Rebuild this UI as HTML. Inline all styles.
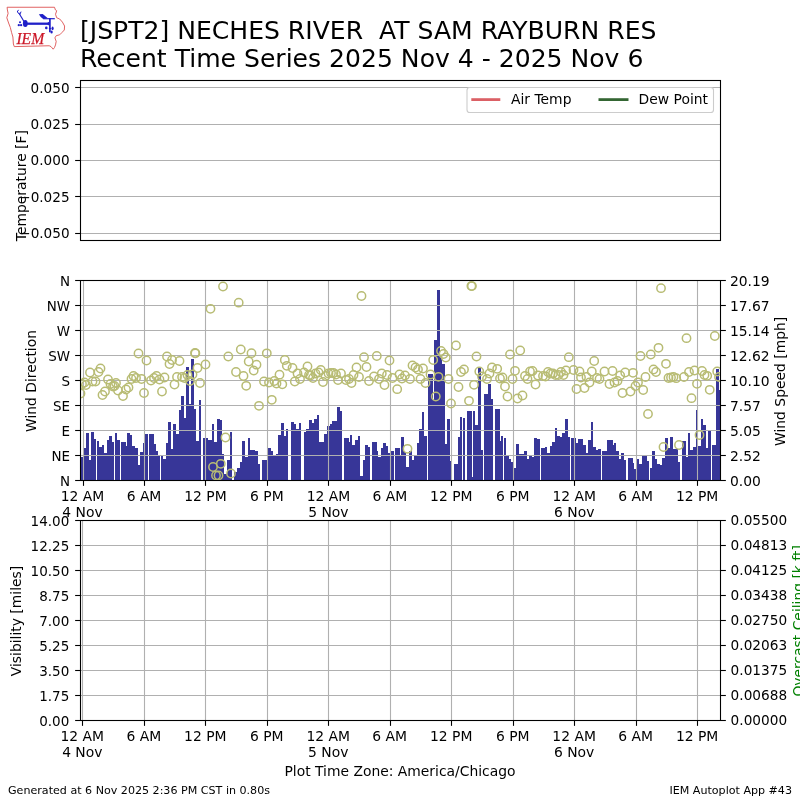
<!DOCTYPE html>
<html lang="en"><head><meta charset="utf-8"><title>IEM Autoplot #43 - JSPT2</title>
<style>html,body{margin:0;padding:0;background:#fff}svg{display:block}</style></head>
<body>
<svg width="800" height="800" viewBox="0 0 800 800" font-family='"DejaVu Sans", "Liberation Sans", sans-serif' font-size="13.89" fill="#000">
<rect width="800" height="800" fill="#fff"/>
<g id="logo">
<polygon points="7.1,7.25 54.5,7.25 55.4,9.9 56.7,10.75 55.5,14.25 56.7,17.75 59.7,19 62.4,22.1 64.6,26 64.3,30 61.9,32.6 59.7,34.8 56.2,35.7 54.9,37.9 56.2,41.4 55.5,44.9 54.5,47.5 53.2,49.2 51,46.6 49.2,45.75 14.25,46.6 13.4,44 12.9,37 11.6,32.6 10.3,27.4 8.6,23 6.8,17.75 8.1,13.4 7.4,9.9" fill="none" stroke="#dc5050" stroke-width="0.9" stroke-linejoin="round"/>
<ellipse cx="25.3" cy="23.6" rx="2.4" ry="3.5" fill="#2020c8"/>
<line x1="25" y1="23.7" x2="49.6" y2="23.7" stroke="#2020c8" stroke-width="2.3"/>
<polygon points="47.5,22.7 49.2,21.8 49.2,25.6 47.5,24.7" fill="#2020c8"/>
<line x1="49.9" y1="17.9" x2="49.9" y2="32.2" stroke="#2020c8" stroke-width="1.7"/>
<line x1="43.2" y1="18.7" x2="54.8" y2="18.7" stroke="#2020c8" stroke-width="1.2"/>
<polygon points="38.9,14.3 42.7,14.0 47.6,18.1 43.2,19.1 40.7,16.9" fill="#2020c8"/>
<line x1="25.3" y1="23.6" x2="18.7" y2="12.8" stroke="#2020c8" stroke-width="1.1"/>
<path d="M18.7,13.3 L17.2,12.0 L18.3,10.2 M19.8,14.6 L20.9,12.0" stroke="#2020c8" stroke-width="1" fill="none" stroke-linecap="round"/>
<circle cx="20" cy="22.2" r="1.0" fill="#2020c8"/><circle cx="18.8" cy="25.2" r="1.15" fill="#2020c8"/><circle cx="21.1" cy="25.2" r="1.15" fill="#2020c8"/>
<circle cx="46.3" cy="27.9" r="1.3" fill="#2020c8"/>
<ellipse cx="52.6" cy="28.3" rx="1.05" ry="1.9" fill="#2020c8"/><ellipse cx="51.6" cy="31.9" rx="1.15" ry="1.5" fill="#2020c8"/>
<line x1="48.9" y1="28.6" x2="51.2" y2="28.6" stroke="#2020c8" stroke-width="1"/>
<text x="16.4" y="43.8" font-family='"Liberation Serif", "DejaVu Serif", serif' font-style="italic" font-size="17.5" fill="#cc1828" stroke="#cc1828" stroke-width="0.25" textLength="27.8" lengthAdjust="spacingAndGlyphs">IEM</text>
</g>
<text x="80" y="38.7" font-size="25" xml:space="preserve" style="white-space:pre" textLength="576.4" lengthAdjust="spacingAndGlyphs">[JSPT2] NECHES RIVER  AT SAM RAYBURN RES</text>
<text x="80" y="66.9" font-size="25" textLength="563.4" lengthAdjust="spacingAndGlyphs">Recent Time Series 2025 Nov 4 - 2025 Nov 6</text>
<line x1="80" x2="720" y1="87.5" y2="87.5" stroke="#b0b0b0" stroke-width="1.1"/>
<line x1="80" x2="720" y1="124.5" y2="124.5" stroke="#b0b0b0" stroke-width="1.1"/>
<line x1="80" x2="720" y1="160.5" y2="160.5" stroke="#b0b0b0" stroke-width="1.1"/>
<line x1="80" x2="720" y1="196.5" y2="196.5" stroke="#b0b0b0" stroke-width="1.1"/>
<line x1="80" x2="720" y1="233.5" y2="233.5" stroke="#b0b0b0" stroke-width="1.1"/>
<rect x="467" y="87.5" width="246.5" height="25" rx="2.8" fill="#fff" fill-opacity="0.8" stroke="#ccc" stroke-width="1.1"/>
<line x1="471.3" x2="500.3" y1="99.6" y2="99.6" stroke="#db6065" stroke-width="2.78"/>
<text x="511" y="104.2">Air Temp</text>
<line x1="598.5" x2="628.5" y1="99.6" y2="99.6" stroke="#346633" stroke-width="2.78"/>
<text x="638.6" y="104.2">Dew Point</text>
<rect x="80.5" y="80.5" width="640" height="160" fill="none" stroke="#000" stroke-width="1.1"/>
<line x1="75.14" x2="80" y1="87.5" y2="87.5" stroke="#000" stroke-width="1.1"/>
<text transform="translate(69.6,92.6) scale(0.98,1)" text-anchor="end">0.050</text>
<line x1="75.14" x2="80" y1="124.5" y2="124.5" stroke="#000" stroke-width="1.1"/>
<text transform="translate(69.6,128.9) scale(0.98,1)" text-anchor="end">0.025</text>
<line x1="75.14" x2="80" y1="160.5" y2="160.5" stroke="#000" stroke-width="1.1"/>
<text transform="translate(69.6,165.3) scale(0.98,1)" text-anchor="end">0.000</text>
<line x1="75.14" x2="80" y1="196.5" y2="196.5" stroke="#000" stroke-width="1.1"/>
<text transform="translate(69.6,201.7) scale(0.98,1)" text-anchor="end">−0.025</text>
<line x1="75.14" x2="80" y1="233.5" y2="233.5" stroke="#000" stroke-width="1.1"/>
<text transform="translate(69.6,238.0) scale(0.98,1)" text-anchor="end">−0.050</text>
<text transform="translate(26.2,241.2) rotate(-90)">Temperature [F]</text>
<g fill="#373698" shape-rendering="crispEdges">
<rect x="81" y="457" width="3" height="23"/>
<rect x="84" y="448" width="2" height="32"/>
<rect x="86" y="433" width="3" height="47"/>
<rect x="89" y="460" width="2" height="20"/>
<rect x="91" y="432" width="3" height="48"/>
<rect x="94" y="439" width="2" height="41"/>
<rect x="97" y="441" width="2" height="39"/>
<rect x="99" y="447" width="3" height="33"/>
<rect x="102" y="445" width="2" height="35"/>
<rect x="104" y="453" width="3" height="27"/>
<rect x="107" y="440" width="2" height="40"/>
<rect x="109" y="436" width="3" height="44"/>
<rect x="112" y="442" width="2" height="38"/>
<rect x="115" y="433" width="2" height="47"/>
<rect x="117" y="440" width="3" height="40"/>
<rect x="121" y="442" width="5" height="38"/>
<rect x="126" y="446" width="1" height="34"/>
<rect x="127" y="433" width="3" height="47"/>
<rect x="130" y="435" width="2" height="45"/>
<rect x="132" y="446" width="3" height="34"/>
<rect x="135" y="448" width="3" height="32"/>
<rect x="138" y="465" width="2" height="15"/>
<rect x="140" y="452" width="3" height="28"/>
<rect x="143" y="443" width="2" height="37"/>
<rect x="145" y="434" width="3" height="46"/>
<rect x="149" y="434" width="5" height="46"/>
<rect x="154" y="444" width="2" height="36"/>
<rect x="156" y="451" width="2" height="29"/>
<rect x="158" y="455" width="2" height="25"/>
<rect x="161" y="456" width="2" height="24"/>
<rect x="163" y="459" width="3" height="21"/>
<rect x="166" y="443" width="2" height="37"/>
<rect x="168" y="422" width="3" height="58"/>
<rect x="171" y="449" width="2" height="31"/>
<rect x="173" y="424" width="3" height="56"/>
<rect x="176" y="434" width="3" height="46"/>
<rect x="179" y="410" width="2" height="70"/>
<rect x="181" y="396" width="3" height="84"/>
<rect x="184" y="418" width="2" height="62"/>
<rect x="186" y="367" width="3" height="113"/>
<rect x="189" y="404" width="2" height="76"/>
<rect x="191" y="359" width="3" height="121"/>
<rect x="194" y="409" width="2" height="71"/>
<rect x="196" y="441" width="3" height="39"/>
<rect x="199" y="400" width="2" height="80"/>
<rect x="203" y="438" width="5" height="42"/>
<rect x="208" y="440" width="4" height="40"/>
<rect x="212" y="424" width="2" height="56"/>
<rect x="214" y="442" width="3" height="38"/>
<rect x="217" y="419" width="3" height="61"/>
<rect x="220" y="420" width="2" height="60"/>
<rect x="222" y="454" width="2" height="26"/>
<rect x="224" y="474" width="3" height="6"/>
<rect x="227" y="460" width="3" height="20"/>
<rect x="230" y="432" width="2" height="48"/>
<rect x="234" y="472" width="3" height="8"/>
<rect x="237" y="468" width="3" height="12"/>
<rect x="240" y="462" width="2" height="18"/>
<rect x="242" y="441" width="3" height="39"/>
<rect x="245" y="457" width="3" height="23"/>
<rect x="248" y="438" width="2" height="42"/>
<rect x="250" y="450" width="5" height="30"/>
<rect x="255" y="451" width="3" height="29"/>
<rect x="258" y="464" width="2" height="16"/>
<rect x="262" y="460" width="6" height="20"/>
<rect x="268" y="448" width="3" height="32"/>
<rect x="271" y="451" width="2" height="29"/>
<rect x="273" y="455" width="3" height="25"/>
<rect x="276" y="454" width="2" height="26"/>
<rect x="278" y="435" width="3" height="45"/>
<rect x="281" y="423" width="3" height="57"/>
<rect x="284" y="436" width="2" height="44"/>
<rect x="286" y="429" width="2" height="51"/>
<rect x="291" y="422" width="3" height="58"/>
<rect x="294" y="424" width="2" height="56"/>
<rect x="296" y="429" width="3" height="51"/>
<rect x="299" y="423" width="2" height="57"/>
<rect x="304" y="432" width="2" height="48"/>
<rect x="306" y="429" width="3" height="51"/>
<rect x="309" y="420" width="3" height="60"/>
<rect x="312" y="423" width="2" height="57"/>
<rect x="314" y="419" width="3" height="61"/>
<rect x="317" y="415" width="2" height="65"/>
<rect x="319" y="442" width="5" height="38"/>
<rect x="324" y="434" width="3" height="46"/>
<rect x="327" y="426" width="3" height="54"/>
<rect x="330" y="424" width="2" height="56"/>
<rect x="332" y="421" width="5" height="59"/>
<rect x="337" y="407" width="3" height="73"/>
<rect x="340" y="411" width="2" height="69"/>
<rect x="344" y="438" width="5" height="42"/>
<rect x="349" y="442" width="1" height="38"/>
<rect x="350" y="435" width="2" height="45"/>
<rect x="352" y="445" width="3" height="35"/>
<rect x="355" y="440" width="3" height="40"/>
<rect x="358" y="436" width="2" height="44"/>
<rect x="360" y="476" width="3" height="4"/>
<rect x="363" y="460" width="2" height="20"/>
<rect x="365" y="445" width="3" height="35"/>
<rect x="368" y="447" width="2" height="33"/>
<rect x="372" y="442" width="5" height="38"/>
<rect x="377" y="451" width="1" height="29"/>
<rect x="378" y="457" width="3" height="23"/>
<rect x="381" y="448" width="2" height="32"/>
<rect x="383" y="443" width="3" height="37"/>
<rect x="386" y="446" width="2" height="34"/>
<rect x="388" y="453" width="3" height="27"/>
<rect x="391" y="451" width="3" height="29"/>
<rect x="395" y="448" width="5" height="32"/>
<rect x="400" y="455" width="1" height="25"/>
<rect x="401" y="437" width="3" height="43"/>
<rect x="404" y="452" width="2" height="28"/>
<rect x="406" y="467" width="3" height="13"/>
<rect x="409" y="451" width="3" height="29"/>
<rect x="412" y="460" width="2" height="20"/>
<rect x="414" y="455" width="3" height="25"/>
<rect x="417" y="443" width="2" height="37"/>
<rect x="419" y="429" width="3" height="51"/>
<rect x="422" y="412" width="2" height="68"/>
<rect x="424" y="436" width="3" height="44"/>
<rect x="428" y="374" width="5" height="106"/>
<rect x="433" y="400" width="1" height="80"/>
<rect x="434" y="340" width="3" height="140"/>
<rect x="437" y="290" width="3" height="190"/>
<rect x="440" y="355" width="2" height="125"/>
<rect x="442" y="364" width="3" height="116"/>
<rect x="445" y="444" width="2" height="36"/>
<rect x="447" y="419" width="3" height="61"/>
<rect x="450" y="461" width="2" height="19"/>
<rect x="454" y="464" width="4" height="16"/>
<rect x="458" y="437" width="2" height="43"/>
<rect x="460" y="417" width="2" height="63"/>
<rect x="463" y="418" width="2" height="62"/>
<rect x="467" y="411" width="5" height="69"/>
<rect x="472" y="477" width="1" height="3"/>
<rect x="473" y="411" width="2" height="69"/>
<rect x="475" y="425" width="3" height="55"/>
<rect x="478" y="368" width="3" height="112"/>
<rect x="481" y="450" width="2" height="30"/>
<rect x="484" y="394" width="4" height="86"/>
<rect x="488" y="384" width="3" height="96"/>
<rect x="491" y="399" width="2" height="81"/>
<rect x="495" y="409" width="5" height="71"/>
<rect x="500" y="441" width="1" height="39"/>
<rect x="501" y="436" width="2" height="44"/>
<rect x="504" y="438" width="2" height="42"/>
<rect x="506" y="456" width="3" height="24"/>
<rect x="509" y="459" width="2" height="21"/>
<rect x="511" y="462" width="3" height="18"/>
<rect x="514" y="468" width="2" height="12"/>
<rect x="516" y="444" width="3" height="36"/>
<rect x="519" y="454" width="5" height="26"/>
<rect x="524" y="451" width="3" height="29"/>
<rect x="527" y="459" width="2" height="21"/>
<rect x="529" y="455" width="3" height="25"/>
<rect x="532" y="457" width="2" height="23"/>
<rect x="534" y="438" width="3" height="42"/>
<rect x="537" y="439" width="3" height="41"/>
<rect x="541" y="448" width="4" height="32"/>
<rect x="545" y="447" width="2" height="33"/>
<rect x="547" y="453" width="3" height="27"/>
<rect x="550" y="446" width="2" height="34"/>
<rect x="552" y="442" width="3" height="38"/>
<rect x="555" y="428" width="2" height="52"/>
<rect x="557" y="436" width="3" height="44"/>
<rect x="560" y="437" width="2" height="43"/>
<rect x="562" y="433" width="3" height="47"/>
<rect x="565" y="419" width="3" height="61"/>
<rect x="568" y="437" width="2" height="43"/>
<rect x="571" y="438" width="5" height="42"/>
<rect x="576" y="443" width="2" height="37"/>
<rect x="578" y="439" width="5" height="41"/>
<rect x="583" y="445" width="3" height="35"/>
<rect x="586" y="453" width="2" height="27"/>
<rect x="588" y="440" width="3" height="40"/>
<rect x="591" y="422" width="2" height="58"/>
<rect x="593" y="447" width="3" height="33"/>
<rect x="596" y="450" width="2" height="30"/>
<rect x="598" y="449" width="3" height="31"/>
<rect x="602" y="451" width="5" height="29"/>
<rect x="607" y="440" width="6" height="40"/>
<rect x="613" y="445" width="1" height="35"/>
<rect x="614" y="443" width="2" height="37"/>
<rect x="616" y="451" width="3" height="29"/>
<rect x="619" y="459" width="2" height="21"/>
<rect x="621" y="453" width="3" height="27"/>
<rect x="624" y="460" width="2" height="20"/>
<rect x="628" y="458" width="5" height="22"/>
<rect x="633" y="463" width="1" height="17"/>
<rect x="634" y="469" width="3" height="11"/>
<rect x="637" y="459" width="2" height="21"/>
<rect x="639" y="464" width="3" height="16"/>
<rect x="642" y="456" width="5" height="24"/>
<rect x="647" y="461" width="2" height="19"/>
<rect x="650" y="468" width="2" height="12"/>
<rect x="652" y="451" width="3" height="29"/>
<rect x="655" y="459" width="2" height="21"/>
<rect x="657" y="464" width="3" height="16"/>
<rect x="660" y="465" width="2" height="15"/>
<rect x="662" y="458" width="3" height="22"/>
<rect x="665" y="438" width="3" height="42"/>
<rect x="668" y="448" width="2" height="32"/>
<rect x="670" y="437" width="3" height="43"/>
<rect x="673" y="449" width="5" height="31"/>
<rect x="678" y="462" width="2" height="18"/>
<rect x="682" y="441" width="4" height="39"/>
<rect x="686" y="457" width="2" height="23"/>
<rect x="688" y="433" width="2" height="47"/>
<rect x="690" y="450" width="3" height="30"/>
<rect x="693" y="447" width="3" height="33"/>
<rect x="696" y="410" width="2" height="70"/>
<rect x="698" y="446" width="3" height="34"/>
<rect x="701" y="419" width="2" height="61"/>
<rect x="703" y="425" width="3" height="55"/>
<rect x="706" y="448" width="2" height="32"/>
<rect x="708" y="431" width="3" height="49"/>
<rect x="712" y="445" width="4" height="35"/>
<rect x="716" y="369" width="3" height="111"/>
<rect x="719" y="390" width="1" height="90"/>
</g>
<line x1="80" x2="720" y1="305.5" y2="305.5" stroke="#b0b0b0" stroke-width="1.1"/>
<line x1="80" x2="720" y1="330.5" y2="330.5" stroke="#b0b0b0" stroke-width="1.1"/>
<line x1="80" x2="720" y1="355.5" y2="355.5" stroke="#b0b0b0" stroke-width="1.1"/>
<line x1="80" x2="720" y1="380.5" y2="380.5" stroke="#b0b0b0" stroke-width="1.1"/>
<line x1="80" x2="720" y1="405.5" y2="405.5" stroke="#b0b0b0" stroke-width="1.1"/>
<line x1="80" x2="720" y1="430.5" y2="430.5" stroke="#b0b0b0" stroke-width="1.1"/>
<line x1="80" x2="720" y1="455.5" y2="455.5" stroke="#b0b0b0" stroke-width="1.1"/>
<line x1="83.5" x2="83.5" y1="280" y2="480" stroke="#b0b0b0" stroke-width="1.1"/>
<line x1="144.5" x2="144.5" y1="280" y2="480" stroke="#b0b0b0" stroke-width="1.1"/>
<line x1="205.5" x2="205.5" y1="280" y2="480" stroke="#b0b0b0" stroke-width="1.1"/>
<line x1="267.5" x2="267.5" y1="280" y2="480" stroke="#b0b0b0" stroke-width="1.1"/>
<line x1="328.5" x2="328.5" y1="280" y2="480" stroke="#b0b0b0" stroke-width="1.1"/>
<line x1="390.5" x2="390.5" y1="280" y2="480" stroke="#b0b0b0" stroke-width="1.1"/>
<line x1="451.5" x2="451.5" y1="280" y2="480" stroke="#b0b0b0" stroke-width="1.1"/>
<line x1="513.5" x2="513.5" y1="280" y2="480" stroke="#b0b0b0" stroke-width="1.1"/>
<line x1="574.5" x2="574.5" y1="280" y2="480" stroke="#b0b0b0" stroke-width="1.1"/>
<line x1="636.5" x2="636.5" y1="280" y2="480" stroke="#b0b0b0" stroke-width="1.1"/>
<line x1="697.5" x2="697.5" y1="280" y2="480" stroke="#b0b0b0" stroke-width="1.1"/>
<clipPath id="c2"><rect x="80.5" y="280.5" width="640" height="200"/></clipPath>
<g clip-path="url(#c2)" fill="none" stroke="#b8bc74" stroke-width="1.5">
<circle cx="80.5" cy="393.5" r="4.17"/>
<circle cx="82" cy="384" r="4.17"/>
<circle cx="84.5" cy="382.5" r="4.17"/>
<circle cx="86" cy="385" r="4.17"/>
<circle cx="90" cy="372.5" r="4.17"/>
<circle cx="92.5" cy="381.5" r="4.17"/>
<circle cx="95.5" cy="381.5" r="4.17"/>
<circle cx="98.5" cy="372" r="4.17"/>
<circle cx="100.5" cy="368.5" r="4.17"/>
<circle cx="102.5" cy="395" r="4.17"/>
<circle cx="105" cy="391.5" r="4.17"/>
<circle cx="108" cy="379.5" r="4.17"/>
<circle cx="110.5" cy="384" r="4.17"/>
<circle cx="113" cy="386.5" r="4.17"/>
<circle cx="114.5" cy="386" r="4.17"/>
<circle cx="116" cy="383" r="4.17"/>
<circle cx="118" cy="390.5" r="4.17"/>
<circle cx="123" cy="396" r="4.17"/>
<circle cx="126" cy="389.5" r="4.17"/>
<circle cx="128.5" cy="387.5" r="4.17"/>
<circle cx="131.5" cy="379" r="4.17"/>
<circle cx="133.5" cy="376" r="4.17"/>
<circle cx="136" cy="378" r="4.17"/>
<circle cx="138.5" cy="353.5" r="4.17"/>
<circle cx="141.5" cy="379" r="4.17"/>
<circle cx="144" cy="393" r="4.17"/>
<circle cx="146.5" cy="360.5" r="4.17"/>
<circle cx="151" cy="380.5" r="4.17"/>
<circle cx="154" cy="378" r="4.17"/>
<circle cx="156.5" cy="376" r="4.17"/>
<circle cx="159.5" cy="379.5" r="4.17"/>
<circle cx="162" cy="391.5" r="4.17"/>
<circle cx="164.5" cy="377.5" r="4.17"/>
<circle cx="167" cy="356.5" r="4.17"/>
<circle cx="169.5" cy="364" r="4.17"/>
<circle cx="172" cy="360" r="4.17"/>
<circle cx="174.5" cy="384.5" r="4.17"/>
<circle cx="177" cy="377" r="4.17"/>
<circle cx="179.5" cy="361" r="4.17"/>
<circle cx="182" cy="377" r="4.17"/>
<circle cx="184.5" cy="378" r="4.17"/>
<circle cx="187.5" cy="375" r="4.17"/>
<circle cx="190" cy="381" r="4.17"/>
<circle cx="192.5" cy="374.5" r="4.17"/>
<circle cx="195" cy="353" r="4.17"/>
<circle cx="195.4" cy="353.3" r="4.17"/>
<circle cx="197.5" cy="368" r="4.17"/>
<circle cx="200" cy="383" r="4.17"/>
<circle cx="205.5" cy="364.5" r="4.17"/>
<circle cx="210.5" cy="308.8" r="4.17"/>
<circle cx="213" cy="467" r="4.17"/>
<circle cx="216" cy="475.5" r="4.17"/>
<circle cx="218.5" cy="475.5" r="4.17"/>
<circle cx="220.8" cy="463.8" r="4.17"/>
<circle cx="223" cy="286.5" r="4.17"/>
<circle cx="225.5" cy="437.5" r="4.17"/>
<circle cx="228.3" cy="356.5" r="4.17"/>
<circle cx="231" cy="473.5" r="4.17"/>
<circle cx="236" cy="372" r="4.17"/>
<circle cx="238.7" cy="302.7" r="4.17"/>
<circle cx="240.8" cy="349.5" r="4.17"/>
<circle cx="243.5" cy="376" r="4.17"/>
<circle cx="246.2" cy="385.8" r="4.17"/>
<circle cx="248.7" cy="361.5" r="4.17"/>
<circle cx="251.5" cy="353.2" r="4.17"/>
<circle cx="253.7" cy="370.5" r="4.17"/>
<circle cx="256.5" cy="364.7" r="4.17"/>
<circle cx="259" cy="405.8" r="4.17"/>
<circle cx="264" cy="381.5" r="4.17"/>
<circle cx="266.8" cy="353.3" r="4.17"/>
<circle cx="269" cy="382.5" r="4.17"/>
<circle cx="271.8" cy="399.8" r="4.17"/>
<circle cx="274.3" cy="381" r="4.17"/>
<circle cx="276.5" cy="383.5" r="4.17"/>
<circle cx="279.5" cy="374.7" r="4.17"/>
<circle cx="282.3" cy="384.3" r="4.17"/>
<circle cx="284.8" cy="360" r="4.17"/>
<circle cx="286.8" cy="365.8" r="4.17"/>
<circle cx="292.5" cy="368" r="4.17"/>
<circle cx="294.8" cy="381.5" r="4.17"/>
<circle cx="297.5" cy="373.5" r="4.17"/>
<circle cx="300" cy="379" r="4.17"/>
<circle cx="304" cy="372.5" r="4.17"/>
<circle cx="307.5" cy="366.5" r="4.17"/>
<circle cx="309" cy="375" r="4.17"/>
<circle cx="310.5" cy="375.5" r="4.17"/>
<circle cx="313" cy="378" r="4.17"/>
<circle cx="315.5" cy="373.5" r="4.17"/>
<circle cx="318.5" cy="372.5" r="4.17"/>
<circle cx="320.8" cy="370" r="4.17"/>
<circle cx="323" cy="382" r="4.17"/>
<circle cx="325.5" cy="376" r="4.17"/>
<circle cx="328.5" cy="373.5" r="4.17"/>
<circle cx="331" cy="373" r="4.17"/>
<circle cx="333.5" cy="373" r="4.17"/>
<circle cx="336" cy="374.5" r="4.17"/>
<circle cx="338" cy="380" r="4.17"/>
<circle cx="341" cy="373.5" r="4.17"/>
<circle cx="346" cy="380" r="4.17"/>
<circle cx="349" cy="379" r="4.17"/>
<circle cx="351.5" cy="383" r="4.17"/>
<circle cx="353.5" cy="375" r="4.17"/>
<circle cx="356.5" cy="367.5" r="4.17"/>
<circle cx="359" cy="377" r="4.17"/>
<circle cx="361.5" cy="296" r="4.17"/>
<circle cx="364" cy="357.2" r="4.17"/>
<circle cx="366.5" cy="367" r="4.17"/>
<circle cx="369" cy="381" r="4.17"/>
<circle cx="374" cy="376.5" r="4.17"/>
<circle cx="376.8" cy="356" r="4.17"/>
<circle cx="379" cy="379" r="4.17"/>
<circle cx="381.8" cy="373.5" r="4.17"/>
<circle cx="384.5" cy="385" r="4.17"/>
<circle cx="387" cy="375" r="4.17"/>
<circle cx="389.5" cy="360.5" r="4.17"/>
<circle cx="392.5" cy="378" r="4.17"/>
<circle cx="397.2" cy="389.2" r="4.17"/>
<circle cx="399.5" cy="374.5" r="4.17"/>
<circle cx="402" cy="378.5" r="4.17"/>
<circle cx="405" cy="375.5" r="4.17"/>
<circle cx="407.5" cy="448.8" r="4.17"/>
<circle cx="410" cy="379" r="4.17"/>
<circle cx="412.5" cy="365.5" r="4.17"/>
<circle cx="415.5" cy="367.5" r="4.17"/>
<circle cx="418" cy="369.5" r="4.17"/>
<circle cx="420.5" cy="379" r="4.17"/>
<circle cx="423" cy="368.5" r="4.17"/>
<circle cx="425.5" cy="383" r="4.17"/>
<circle cx="430.5" cy="374.5" r="4.17"/>
<circle cx="433.2" cy="360" r="4.17"/>
<circle cx="435.8" cy="396.5" r="4.17"/>
<circle cx="438.5" cy="376.8" r="4.17"/>
<circle cx="441" cy="351" r="4.17"/>
<circle cx="443.5" cy="354" r="4.17"/>
<circle cx="445.8" cy="357.5" r="4.17"/>
<circle cx="448.5" cy="379" r="4.17"/>
<circle cx="451" cy="403.5" r="4.17"/>
<circle cx="456" cy="345.5" r="4.17"/>
<circle cx="458.5" cy="387" r="4.17"/>
<circle cx="461" cy="372" r="4.17"/>
<circle cx="464" cy="369.5" r="4.17"/>
<circle cx="469" cy="400.8" r="4.17"/>
<circle cx="471.4" cy="286.1" r="4.17"/>
<circle cx="471.9" cy="286.1" r="4.17"/>
<circle cx="474" cy="384.8" r="4.17"/>
<circle cx="476.5" cy="356.5" r="4.17"/>
<circle cx="479.3" cy="371.5" r="4.17"/>
<circle cx="482" cy="376.5" r="4.17"/>
<circle cx="487" cy="379" r="4.17"/>
<circle cx="489.5" cy="373.5" r="4.17"/>
<circle cx="492" cy="367.5" r="4.17"/>
<circle cx="497.2" cy="368.8" r="4.17"/>
<circle cx="500" cy="378.5" r="4.17"/>
<circle cx="502.5" cy="377.5" r="4.17"/>
<circle cx="505" cy="386.5" r="4.17"/>
<circle cx="507.5" cy="396.5" r="4.17"/>
<circle cx="510" cy="354.5" r="4.17"/>
<circle cx="512.5" cy="379" r="4.17"/>
<circle cx="515" cy="370.8" r="4.17"/>
<circle cx="517.5" cy="398.5" r="4.17"/>
<circle cx="520.2" cy="350.5" r="4.17"/>
<circle cx="522.5" cy="395.5" r="4.17"/>
<circle cx="525" cy="376" r="4.17"/>
<circle cx="527.5" cy="379" r="4.17"/>
<circle cx="530" cy="371.5" r="4.17"/>
<circle cx="532.5" cy="371" r="4.17"/>
<circle cx="535.5" cy="384.5" r="4.17"/>
<circle cx="538" cy="375.5" r="4.17"/>
<circle cx="543" cy="376" r="4.17"/>
<circle cx="545.5" cy="376.5" r="4.17"/>
<circle cx="548" cy="372" r="4.17"/>
<circle cx="550.5" cy="373.5" r="4.17"/>
<circle cx="553" cy="373.5" r="4.17"/>
<circle cx="555.5" cy="375" r="4.17"/>
<circle cx="558.5" cy="375" r="4.17"/>
<circle cx="561" cy="372" r="4.17"/>
<circle cx="563.5" cy="375" r="4.17"/>
<circle cx="566" cy="370.5" r="4.17"/>
<circle cx="568.8" cy="357.2" r="4.17"/>
<circle cx="573.5" cy="370" r="4.17"/>
<circle cx="576.5" cy="389" r="4.17"/>
<circle cx="579.5" cy="371.5" r="4.17"/>
<circle cx="581" cy="377.5" r="4.17"/>
<circle cx="584.5" cy="388" r="4.17"/>
<circle cx="586.5" cy="377" r="4.17"/>
<circle cx="589.5" cy="382.5" r="4.17"/>
<circle cx="591.8" cy="371.5" r="4.17"/>
<circle cx="594.2" cy="361" r="4.17"/>
<circle cx="597" cy="378" r="4.17"/>
<circle cx="599.5" cy="379" r="4.17"/>
<circle cx="604.5" cy="371.5" r="4.17"/>
<circle cx="609.5" cy="384" r="4.17"/>
<circle cx="612.5" cy="371" r="4.17"/>
<circle cx="614.5" cy="382.5" r="4.17"/>
<circle cx="617.5" cy="381" r="4.17"/>
<circle cx="620.2" cy="375.5" r="4.17"/>
<circle cx="622.5" cy="393" r="4.17"/>
<circle cx="625.2" cy="372.5" r="4.17"/>
<circle cx="630.5" cy="391.5" r="4.17"/>
<circle cx="633" cy="372.8" r="4.17"/>
<circle cx="635.5" cy="386" r="4.17"/>
<circle cx="638" cy="382.5" r="4.17"/>
<circle cx="640.5" cy="356" r="4.17"/>
<circle cx="643.2" cy="390" r="4.17"/>
<circle cx="645.5" cy="377" r="4.17"/>
<circle cx="648" cy="414" r="4.17"/>
<circle cx="650.8" cy="354.5" r="4.17"/>
<circle cx="653.5" cy="369.5" r="4.17"/>
<circle cx="656" cy="372" r="4.17"/>
<circle cx="658.5" cy="347.8" r="4.17"/>
<circle cx="661" cy="288.2" r="4.17"/>
<circle cx="663.5" cy="447" r="4.17"/>
<circle cx="666" cy="363.8" r="4.17"/>
<circle cx="668.5" cy="378" r="4.17"/>
<circle cx="671" cy="377.5" r="4.17"/>
<circle cx="673.5" cy="377" r="4.17"/>
<circle cx="676.2" cy="378.2" r="4.17"/>
<circle cx="679" cy="445" r="4.17"/>
<circle cx="684" cy="377" r="4.17"/>
<circle cx="686.5" cy="338.2" r="4.17"/>
<circle cx="689" cy="372" r="4.17"/>
<circle cx="691.5" cy="398.2" r="4.17"/>
<circle cx="694.5" cy="370.5" r="4.17"/>
<circle cx="697" cy="383.8" r="4.17"/>
<circle cx="699.5" cy="435" r="4.17"/>
<circle cx="702" cy="371" r="4.17"/>
<circle cx="704.5" cy="375" r="4.17"/>
<circle cx="707.2" cy="375.8" r="4.17"/>
<circle cx="709.7" cy="389.8" r="4.17"/>
<circle cx="714.8" cy="336" r="4.17"/>
<circle cx="717.2" cy="371.5" r="4.17"/>
<circle cx="719" cy="377" r="4.17"/>
</g>
<rect x="80.5" y="280.5" width="640" height="200" fill="none" stroke="#000" stroke-width="1.1"/>
<line x1="75.14" x2="80" y1="280.5" y2="280.5" stroke="#000" stroke-width="1.1"/>
<line x1="721" x2="725.86" y1="280.5" y2="280.5" stroke="#000" stroke-width="1.1"/>
<text transform="translate(70.1,285.8) scale(0.97,1)" text-anchor="end">N</text>
<text x="729.9" y="285.8">20.19</text>
<line x1="75.14" x2="80" y1="305.5" y2="305.5" stroke="#000" stroke-width="1.1"/>
<line x1="721" x2="725.86" y1="305.5" y2="305.5" stroke="#000" stroke-width="1.1"/>
<text transform="translate(70.1,310.8) scale(0.97,1)" text-anchor="end">NW</text>
<text x="729.9" y="310.8">17.67</text>
<line x1="75.14" x2="80" y1="330.5" y2="330.5" stroke="#000" stroke-width="1.1"/>
<line x1="721" x2="725.86" y1="330.5" y2="330.5" stroke="#000" stroke-width="1.1"/>
<text transform="translate(70.1,335.8) scale(0.97,1)" text-anchor="end">W</text>
<text x="729.9" y="335.8">15.14</text>
<line x1="75.14" x2="80" y1="355.5" y2="355.5" stroke="#000" stroke-width="1.1"/>
<line x1="721" x2="725.86" y1="355.5" y2="355.5" stroke="#000" stroke-width="1.1"/>
<text transform="translate(70.1,360.8) scale(0.97,1)" text-anchor="end">SW</text>
<text x="729.9" y="360.8">12.62</text>
<line x1="75.14" x2="80" y1="380.5" y2="380.5" stroke="#000" stroke-width="1.1"/>
<line x1="721" x2="725.86" y1="380.5" y2="380.5" stroke="#000" stroke-width="1.1"/>
<text transform="translate(70.1,385.8) scale(0.97,1)" text-anchor="end">S</text>
<text x="729.9" y="385.8">10.10</text>
<line x1="75.14" x2="80" y1="405.5" y2="405.5" stroke="#000" stroke-width="1.1"/>
<line x1="721" x2="725.86" y1="405.5" y2="405.5" stroke="#000" stroke-width="1.1"/>
<text transform="translate(70.1,410.8) scale(0.97,1)" text-anchor="end">SE</text>
<text x="729.9" y="410.8">7.57</text>
<line x1="75.14" x2="80" y1="430.5" y2="430.5" stroke="#000" stroke-width="1.1"/>
<line x1="721" x2="725.86" y1="430.5" y2="430.5" stroke="#000" stroke-width="1.1"/>
<text transform="translate(70.1,435.8) scale(0.97,1)" text-anchor="end">E</text>
<text x="729.9" y="435.8">5.05</text>
<line x1="75.14" x2="80" y1="455.5" y2="455.5" stroke="#000" stroke-width="1.1"/>
<line x1="721" x2="725.86" y1="455.5" y2="455.5" stroke="#000" stroke-width="1.1"/>
<text transform="translate(70.1,460.8) scale(0.97,1)" text-anchor="end">NE</text>
<text x="729.9" y="460.8">2.52</text>
<line x1="75.14" x2="80" y1="480.5" y2="480.5" stroke="#000" stroke-width="1.1"/>
<line x1="721" x2="725.86" y1="480.5" y2="480.5" stroke="#000" stroke-width="1.1"/>
<text transform="translate(70.1,485.8) scale(0.97,1)" text-anchor="end">N</text>
<text x="729.9" y="485.8">0.00</text>
<text transform="translate(36.4,381) rotate(-90)" text-anchor="middle">Wind Direction</text>
<text transform="translate(784.5,381.4) rotate(-90)" text-anchor="middle">Wind Speed [mph]</text>
<line x1="83.5" x2="83.5" y1="481" y2="485.86" stroke="#000" stroke-width="1.1"/>
<text x="82.5" y="501" text-anchor="middle">12 AM</text>
<text x="82.5" y="516.9" text-anchor="middle">4 Nov</text>
<line x1="144.5" x2="144.5" y1="481" y2="485.86" stroke="#000" stroke-width="1.1"/>
<text x="144.0" y="501" text-anchor="middle">6 AM</text>
<line x1="205.5" x2="205.5" y1="481" y2="485.86" stroke="#000" stroke-width="1.1"/>
<text x="205.5" y="501" text-anchor="middle">12 PM</text>
<line x1="267.5" x2="267.5" y1="481" y2="485.86" stroke="#000" stroke-width="1.1"/>
<text x="266.9" y="501" text-anchor="middle">6 PM</text>
<line x1="328.5" x2="328.5" y1="481" y2="485.86" stroke="#000" stroke-width="1.1"/>
<text x="328.4" y="501" text-anchor="middle">12 AM</text>
<text x="328.4" y="516.9" text-anchor="middle">5 Nov</text>
<line x1="390.5" x2="390.5" y1="481" y2="485.86" stroke="#000" stroke-width="1.1"/>
<text x="389.9" y="501" text-anchor="middle">6 AM</text>
<line x1="451.5" x2="451.5" y1="481" y2="485.86" stroke="#000" stroke-width="1.1"/>
<text x="451.3" y="501" text-anchor="middle">12 PM</text>
<line x1="513.5" x2="513.5" y1="481" y2="485.86" stroke="#000" stroke-width="1.1"/>
<text x="512.8" y="501" text-anchor="middle">6 PM</text>
<line x1="574.5" x2="574.5" y1="481" y2="485.86" stroke="#000" stroke-width="1.1"/>
<text x="574.2" y="501" text-anchor="middle">12 AM</text>
<text x="574.2" y="516.9" text-anchor="middle">6 Nov</text>
<line x1="636.5" x2="636.5" y1="481" y2="485.86" stroke="#000" stroke-width="1.1"/>
<text x="635.7" y="501" text-anchor="middle">6 AM</text>
<line x1="697.5" x2="697.5" y1="481" y2="485.86" stroke="#000" stroke-width="1.1"/>
<text x="697.1" y="501" text-anchor="middle">12 PM</text>
<line x1="80" x2="720" y1="545.5" y2="545.5" stroke="#b0b0b0" stroke-width="1.1"/>
<line x1="80" x2="720" y1="570.5" y2="570.5" stroke="#b0b0b0" stroke-width="1.1"/>
<line x1="80" x2="720" y1="595.5" y2="595.5" stroke="#b0b0b0" stroke-width="1.1"/>
<line x1="80" x2="720" y1="620.5" y2="620.5" stroke="#b0b0b0" stroke-width="1.1"/>
<line x1="80" x2="720" y1="645.5" y2="645.5" stroke="#b0b0b0" stroke-width="1.1"/>
<line x1="80" x2="720" y1="670.5" y2="670.5" stroke="#b0b0b0" stroke-width="1.1"/>
<line x1="80" x2="720" y1="695.5" y2="695.5" stroke="#b0b0b0" stroke-width="1.1"/>
<line x1="82.5" x2="82.5" y1="520" y2="720" stroke="#b0b0b0" stroke-width="1.1"/>
<line x1="144.5" x2="144.5" y1="520" y2="720" stroke="#b0b0b0" stroke-width="1.1"/>
<line x1="205.5" x2="205.5" y1="520" y2="720" stroke="#b0b0b0" stroke-width="1.1"/>
<line x1="267.5" x2="267.5" y1="520" y2="720" stroke="#b0b0b0" stroke-width="1.1"/>
<line x1="328.5" x2="328.5" y1="520" y2="720" stroke="#b0b0b0" stroke-width="1.1"/>
<line x1="390.5" x2="390.5" y1="520" y2="720" stroke="#b0b0b0" stroke-width="1.1"/>
<line x1="451.5" x2="451.5" y1="520" y2="720" stroke="#b0b0b0" stroke-width="1.1"/>
<line x1="513.5" x2="513.5" y1="520" y2="720" stroke="#b0b0b0" stroke-width="1.1"/>
<line x1="574.5" x2="574.5" y1="520" y2="720" stroke="#b0b0b0" stroke-width="1.1"/>
<line x1="636.5" x2="636.5" y1="520" y2="720" stroke="#b0b0b0" stroke-width="1.1"/>
<line x1="697.5" x2="697.5" y1="520" y2="720" stroke="#b0b0b0" stroke-width="1.1"/>
<rect x="80.5" y="520.5" width="640" height="200" fill="none" stroke="#000" stroke-width="1.1"/>
<line x1="75.14" x2="80" y1="520.5" y2="520.5" stroke="#000" stroke-width="1.1"/>
<line x1="721" x2="725.86" y1="520.5" y2="520.5" stroke="#000" stroke-width="1.1"/>
<text transform="translate(69.3,525.5) scale(0.975,1)" text-anchor="end">14.00</text>
<text transform="translate(730.6,525.0) scale(0.985,1)">0.05500</text>
<line x1="75.14" x2="80" y1="545.5" y2="545.5" stroke="#000" stroke-width="1.1"/>
<line x1="721" x2="725.86" y1="545.5" y2="545.5" stroke="#000" stroke-width="1.1"/>
<text transform="translate(69.3,550.5) scale(0.975,1)" text-anchor="end">12.25</text>
<text transform="translate(730.6,550.0) scale(0.985,1)">0.04813</text>
<line x1="75.14" x2="80" y1="570.5" y2="570.5" stroke="#000" stroke-width="1.1"/>
<line x1="721" x2="725.86" y1="570.5" y2="570.5" stroke="#000" stroke-width="1.1"/>
<text transform="translate(69.3,575.5) scale(0.975,1)" text-anchor="end">10.50</text>
<text transform="translate(730.6,575.0) scale(0.985,1)">0.04125</text>
<line x1="75.14" x2="80" y1="595.5" y2="595.5" stroke="#000" stroke-width="1.1"/>
<line x1="721" x2="725.86" y1="595.5" y2="595.5" stroke="#000" stroke-width="1.1"/>
<text transform="translate(69.3,600.5) scale(0.975,1)" text-anchor="end">8.75</text>
<text transform="translate(730.6,600.0) scale(0.985,1)">0.03438</text>
<line x1="75.14" x2="80" y1="620.5" y2="620.5" stroke="#000" stroke-width="1.1"/>
<line x1="721" x2="725.86" y1="620.5" y2="620.5" stroke="#000" stroke-width="1.1"/>
<text transform="translate(69.3,625.5) scale(0.975,1)" text-anchor="end">7.00</text>
<text transform="translate(730.6,625.0) scale(0.985,1)">0.02750</text>
<line x1="75.14" x2="80" y1="645.5" y2="645.5" stroke="#000" stroke-width="1.1"/>
<line x1="721" x2="725.86" y1="645.5" y2="645.5" stroke="#000" stroke-width="1.1"/>
<text transform="translate(69.3,650.5) scale(0.975,1)" text-anchor="end">5.25</text>
<text transform="translate(730.6,650.0) scale(0.985,1)">0.02063</text>
<line x1="75.14" x2="80" y1="670.5" y2="670.5" stroke="#000" stroke-width="1.1"/>
<line x1="721" x2="725.86" y1="670.5" y2="670.5" stroke="#000" stroke-width="1.1"/>
<text transform="translate(69.3,675.5) scale(0.975,1)" text-anchor="end">3.50</text>
<text transform="translate(730.6,675.0) scale(0.985,1)">0.01375</text>
<line x1="75.14" x2="80" y1="695.5" y2="695.5" stroke="#000" stroke-width="1.1"/>
<line x1="721" x2="725.86" y1="695.5" y2="695.5" stroke="#000" stroke-width="1.1"/>
<text transform="translate(69.3,700.5) scale(0.975,1)" text-anchor="end">1.75</text>
<text transform="translate(730.6,700.0) scale(0.985,1)">0.00688</text>
<line x1="75.14" x2="80" y1="720.5" y2="720.5" stroke="#000" stroke-width="1.1"/>
<line x1="721" x2="725.86" y1="720.5" y2="720.5" stroke="#000" stroke-width="1.1"/>
<text transform="translate(69.3,725.5) scale(0.975,1)" text-anchor="end">0.00</text>
<text transform="translate(730.6,725.0) scale(0.985,1)">0.00000</text>
<text transform="translate(21.2,621) rotate(-90)" text-anchor="middle">Visibility [miles]</text>
<text transform="translate(803,620.9) rotate(-90)" text-anchor="middle" fill="#008000">Overcast Ceiling [k ft]</text>
<line x1="82.5" x2="82.5" y1="721" y2="725.86" stroke="#000" stroke-width="1.1"/>
<text x="82.3" y="741" text-anchor="middle">12 AM</text>
<text x="82.3" y="756.9" text-anchor="middle">4 Nov</text>
<line x1="144.5" x2="144.5" y1="721" y2="725.86" stroke="#000" stroke-width="1.1"/>
<text x="143.8" y="741" text-anchor="middle">6 AM</text>
<line x1="205.5" x2="205.5" y1="721" y2="725.86" stroke="#000" stroke-width="1.1"/>
<text x="205.3" y="741" text-anchor="middle">12 PM</text>
<line x1="267.5" x2="267.5" y1="721" y2="725.86" stroke="#000" stroke-width="1.1"/>
<text x="266.7" y="741" text-anchor="middle">6 PM</text>
<line x1="328.5" x2="328.5" y1="721" y2="725.86" stroke="#000" stroke-width="1.1"/>
<text x="328.2" y="741" text-anchor="middle">12 AM</text>
<text x="328.2" y="756.9" text-anchor="middle">5 Nov</text>
<line x1="390.5" x2="390.5" y1="721" y2="725.86" stroke="#000" stroke-width="1.1"/>
<text x="389.7" y="741" text-anchor="middle">6 AM</text>
<line x1="451.5" x2="451.5" y1="721" y2="725.86" stroke="#000" stroke-width="1.1"/>
<text x="451.2" y="741" text-anchor="middle">12 PM</text>
<line x1="513.5" x2="513.5" y1="721" y2="725.86" stroke="#000" stroke-width="1.1"/>
<text x="512.7" y="741" text-anchor="middle">6 PM</text>
<line x1="574.5" x2="574.5" y1="721" y2="725.86" stroke="#000" stroke-width="1.1"/>
<text x="574.1" y="741" text-anchor="middle">12 AM</text>
<text x="574.1" y="756.9" text-anchor="middle">6 Nov</text>
<line x1="636.5" x2="636.5" y1="721" y2="725.86" stroke="#000" stroke-width="1.1"/>
<text x="635.6" y="741" text-anchor="middle">6 AM</text>
<line x1="697.5" x2="697.5" y1="721" y2="725.86" stroke="#000" stroke-width="1.1"/>
<text x="697.1" y="741" text-anchor="middle">12 PM</text>
<text x="400" y="775.5" text-anchor="middle">Plot Time Zone: America/Chicago</text>
<text x="8" y="793.5" font-size="11.1">Generated at 6 Nov 2025 2:36 PM CST in 0.80s</text>
<text x="792" y="793.5" font-size="11.1" text-anchor="end">IEM Autoplot App #43</text>
</svg>
</body></html>
